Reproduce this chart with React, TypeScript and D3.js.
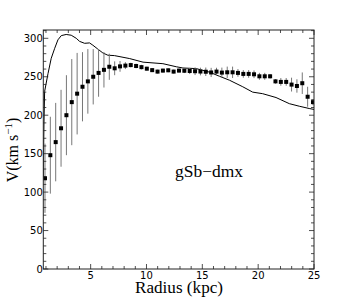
import React from 'react'
import { scaleLinear, line, range } from 'd3'

// observed points
const radius = [0.91, 1.39, 1.87, 2.35, 2.83, 3.31, 3.79, 4.27, 4.75, 5.23, 5.71, 6.19, 6.67, 7.15, 7.63, 8.11, 8.59, 9.07, 9.55, 10.03,
    10.51, 10.99, 11.47, 11.95, 12.43, 12.91, 13.39, 13.87, 14.35, 14.83, 15.31, 15.79, 16.27, 16.75, 17.23, 17.71, 18.19, 18.67, 19.15, 19.63,
    20.11, 20.59, 21.07, 21.55, 22.03, 22.51, 22.99, 23.47, 23.95, 24.43, 24.91]
const velocity = [118, 148, 165, 183, 200, 217, 228, 237, 244, 250, 255, 259, 263, 261, 263.5, 264.5, 265.2, 264, 262.5, 260.5,
    258.6, 256.7, 258, 258.4, 256.7, 258, 257.8, 257.5, 257.2, 256.8, 256.5, 255.6, 256.7, 255.4, 255.8, 255.8, 255, 253.7, 253.7, 253.2,
    250.6, 250.6, 250.6, 244, 243.3, 243.3, 239.8, 238, 241.6, 224, 217]
const velErr = [45, 50, 51, 50, 52, 56, 53, 45, 42, 36, 31, 23, 17, 9, 7, 4.5, 3, 3, 3, 2.5,
    2.5, 2.5, 2.5, 2.5, 2.5, 2.5, 3, 4, 5, 5, 5.5, 6, 5, 6.5, 7.4, 7.4, 5, 5, 5, 5,
    4.5, 4.5, 3, 3, 5, 5, 9, 8.7, 14, 13, 4]

// model curve
const modelR = [0.76, 0.82, 0.88, 1.18, 1.47, 1.78, 2.07, 2.37, 2.81, 3.26, 3.71, 4.01, 4.46, 4.9, 5.2, 5.64, 6.09, 6.54, 7.13, 8.5,
    9.69, 11.47, 12.67, 13.26, 14.46, 15.64, 16.54, 17.43, 18.62, 19.51, 20.4, 21.6, 22.79, 23.68, 24.57, 25]
const modelV = [120, 190, 231, 254, 274, 287, 298, 303.5, 305, 304, 300, 296, 293.5, 294, 291, 286, 281, 278, 277.5, 273.6,
    269, 267, 263, 261.4, 260.6, 256, 250.6, 245.5, 237, 230, 228, 223, 215, 211.7, 208.7, 207.5]

const xTicks = [5, 10, 15, 20, 25]
const yTicks = [0, 50, 100, 150, 200, 250, 300]

const serif = "'Liberation Serif', 'DejaVu Serif', serif"
const sans = "'DejaVu Sans', sans-serif"

export default function App() {
    const left = 43.3, right = 314, top = 30, bottom = 269
    const x = scaleLinear().domain([0.76, 25]).range([left, right])
    const y = scaleLinear().domain([0, 310.8]).range([bottom, top])

    const model = line<number>().x((d, i) => x(modelR[i])).y(d => y(d))(modelV)
    const xMinor = range(1, 26)
    const yMinor = range(0, 311, 10)

    return (
        <svg width={349} height={299} style={{ position: 'absolute', left: 0, top: 0, background: '#fff' }}>
            <defs>
                <clipPath id="plot">
                    <rect x={left} y={top} width={right - left} height={bottom - top} />
                </clipPath>
            </defs>
            <g clipPath="url(#plot)">
                <path d={model} fill="none" stroke="#000" strokeWidth={1} />
                {radius.map((r, i) =>
                    <line key={'e' + i} x1={x(r)} x2={x(r)} y1={y(velocity[i] - velErr[i])} y2={y(velocity[i] + velErr[i])}
                        stroke="#777" strokeWidth={1} />
                )}
                {radius.map((r, i) =>
                    <rect key={'p' + i} x={x(r) - 2} y={y(velocity[i]) - 2} width={4} height={4} fill="#000" />
                )}
            </g>

            {/* ticks on all four sides, pointing in */}
            {xMinor.map(t => {
                const len = t % 5 === 0 ? 5 : 3
                return <g key={'xt' + t} stroke="#222" strokeWidth={0.8}>
                    <line x1={x(t)} x2={x(t)} y1={bottom} y2={bottom - len} />
                    <line x1={x(t)} x2={x(t)} y1={top} y2={top + len} />
                </g>
            })}
            {yMinor.map(t => {
                const len = t % 50 === 0 ? 5 : 3
                return <g key={'yt' + t} stroke="#222" strokeWidth={0.8}>
                    <line x1={left} x2={left + len} y1={y(t)} y2={y(t)} />
                    <line x1={right} x2={right - len} y1={y(t)} y2={y(t)} />
                </g>
            })}
            <rect x={left} y={top} width={right - left} height={bottom - top} fill="none" stroke="#222" strokeWidth={1} />

            {xTicks.map(t =>
                <text key={'xl' + t} x={x(t)} y={278.5} textAnchor="middle" fontFamily={sans} fontSize={10}>{t}</text>
            )}
            {yTicks.map(t =>
                <text key={'yl' + t} x={left - 0.5} y={y(t) + 3.6} textAnchor="end" fontFamily={sans} fontSize={10}>{t}</text>
            )}

            <text x={135} y={293} fontFamily={serif} fontSize={16} textLength={88} lengthAdjust="spacingAndGlyphs">Radius (kpc)</text>
            <text transform="translate(18,150) rotate(-90)" textAnchor="middle" fontFamily={serif} fontSize={16}>
                V(km s<tspan dy={-6} fontSize={11}>−1</tspan><tspan dy={6}>)</tspan>
            </text>
            <text x={175} y={y(119)} fontFamily={serif} fontSize={16} textLength={68} lengthAdjust="spacingAndGlyphs">gSb−dmx</text>
        </svg>
    )
}
